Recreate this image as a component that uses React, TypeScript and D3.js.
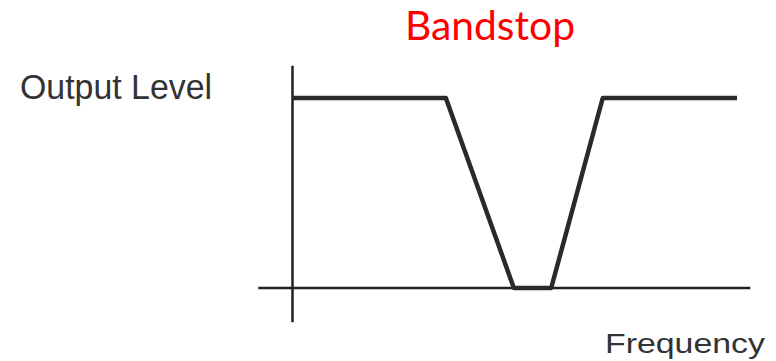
import React from "react";
import * as d3 from "d3";

// Data (normalized frequency units, normalized output level)
const freqPoints = [0, 3.45, 4.98, 5.82, 6.98, 10];
const levelPoints = [1, 1, 0, 0, 1, 1];
const xAxisExtent = [-0.77, 10.3];
const yAxisExtent = [-0.18, 1.17];
const titleText = "Bandstop";
const yLabel = "Output Level";
const xLabel = "Frequency";

const W = 776;
const H = 361;

export default function App() {
  const x = d3.scaleLinear().domain([0, 10]).range([292.5, 737]);
  const y = d3.scaleLinear().domain([0, 1]).range([288, 98]);
  const pts: [number, number][] = freqPoints.map((f, i) => [f, levelPoints[i]]);
  const line = d3
    .line<[number, number]>()
    .x((d) => x(d[0]))
    .y((d) => y(d[1]))
    .curve(d3.curveLinear);

  return (
    <svg
      width={W}
      height={H}
      style={{ position: "absolute", left: 0, top: 0, background: "#fff" }}
    >
      <rect x={0} y={0} width={W} height={H} fill="#fff" />
      {/* axes */}
      <line
        x1={x(xAxisExtent[0])}
        x2={x(xAxisExtent[1])}
        y1={y(0)}
        y2={y(0)}
        stroke="#222"
        strokeWidth={2.5}
      />
      <line
        x1={x(0)}
        x2={x(0)}
        y1={y(yAxisExtent[1])}
        y2={y(yAxisExtent[0])}
        stroke="#222"
        strokeWidth={2.5}
      />
      {/* response */}
      <path
        d={line(pts) || ""}
        fill="none"
        stroke="#2a2a2a"
        strokeWidth={4.5}
        strokeLinejoin="round"
      />
      {/* texts */}
      <text
        x={405}
        y={40}
        fill="#ff0000"
        fontFamily="Lato, 'Open Sans', sans-serif"
        fontSize={40}
        textLength={170}
        lengthAdjust="spacingAndGlyphs"
      >
        {titleText}
      </text>
      <text
        x={20}
        y={99}
        fill="#333"
        fontFamily="'Liberation Sans', Arial, sans-serif"
        fontSize={35}
        textLength={192}
        lengthAdjust="spacingAndGlyphs"
      >
        {yLabel}
      </text>
      <text
        x={605}
        y={353}
        fill="#333"
        fontFamily="'Liberation Sans', Arial, sans-serif"
        fontSize={27}
        textLength={160}
        lengthAdjust="spacingAndGlyphs"
      >
        {xLabel}
      </text>
    </svg>
  );
}
